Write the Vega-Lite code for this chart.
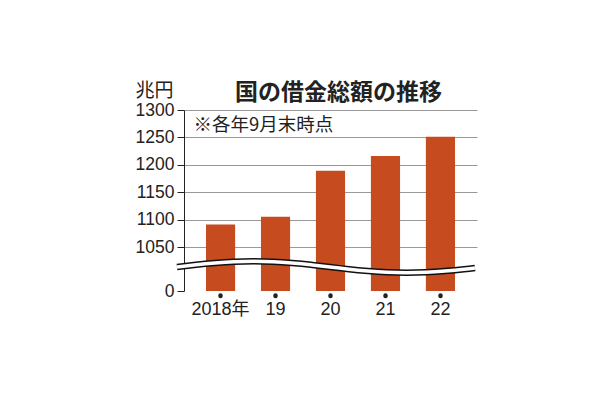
{
  "$schema": "https://vega.github.io/schema/vega-lite/v6.json",
  "width": 293,
  "height": 181,
  "autosize": "none",
  "padding": {"left": 184, "top": 110, "right": 133, "bottom": 109},
  "background": "white",
  "title": {
    "text": "国の借金総額の推移",
    "font": "Noto Sans CJK JP",
    "fontSize": 23,
    "fontWeight": "bold",
    "color": "#222222",
    "anchor": "middle",
    "frame": "group",
    "dx": 8,
    "offset": -24
  },
  "config": {
    "view": {"stroke": null}
  },
  "encoding": {
    "y": {
      "field": "value",
      "type": "quantitative",
      "scale": {"domain": [0, 1050, 1300], "range": [181, 137, 0], "nice": false, "zero": false},
      "axis": {
        "title": "兆円",
        "titleFont": "Noto Sans CJK JP",
        "titleFontSize": 19,
        "titleFontWeight": "normal",
        "titleColor": "#222222",
        "titleAngle": 0,
        "titleAlign": "right",
        "titleBaseline": "bottom",
        "titleX": -11,
        "titleY": -10,
        "values": [0, 1050, 1100, 1150, 1200, 1250, 1300],
        "format": "d",
        "labelOverlap": false,
        "labelFont": "Liberation Sans",
        "labelFontSize": 17.5,
        "labelColor": "#222222",
        "labelPadding": 3,
        "tickSize": 7,
        "tickColor": "#222222",
        "domainColor": "#222222",
        "grid": true,
        "gridColor": "#999999",
        "gridOpacity": {"condition": {"test": "datum.value === 0", "value": 0}, "value": 1}
      }
    }
  },
  "layer": [
    {
      "layer": [
        {
          "data": {
            "values": [
              {"year": "2018年", "value": 1091},
              {"year": "19", "value": 1105},
              {"year": "20", "value": 1189},
              {"year": "21", "value": 1216},
              {"year": "22", "value": 1251}
            ]
          },
          "mark": {"type": "bar", "color": "#c64b1e"},
          "encoding": {
            "x": {
              "field": "year",
              "type": "nominal",
              "sort": null,
              "scale": {"domain": ["2018年", "19", "20", "21", "22"], "paddingInner": 0.47, "paddingOuter": 0.4},
              "axis": {
                "title": null,
                "domain": false,
                "labelAngle": 0,
                "labelFont": "Liberation Sans, Noto Sans CJK JP",
                "labelFontSize": 18,
                "labelColor": "#222222",
                "labelPadding": 5,
                "ticks": true,
                "tickCap": "round",
                "tickWidth": 4.5,
                "tickSize": 0.5,
                "tickColor": "#222222",
                "offset": 4
              }
            }
          }
        },
        {
          "data": {"values": [{"note": "※各年9月末時点", "year": "2018年", "value": 1273}]},
          "mark": {
            "type": "text",
            "font": "Noto Sans CJK JP",
            "fontSize": 18.5,
            "color": "#222222",
            "align": "left",
            "baseline": "middle",
            "dx": -27
          },
          "encoding": {
            "x": {"field": "year", "type": "nominal"},
            "text": {"field": "note"}
          }
        }
      ]
    },
    {
      "data": {
        "values": [
          {"t": -7, "value": 573},
          {"t": 12, "value": 625},
          {"t": 31, "value": 668},
          {"t": 50, "value": 699},
          {"t": 69.5, "value": 710},
          {"t": 89, "value": 699},
          {"t": 108, "value": 668},
          {"t": 127, "value": 625},
          {"t": 146, "value": 573},
          {"t": 165, "value": 520},
          {"t": 184, "value": 477},
          {"t": 203, "value": 446},
          {"t": 222.5, "value": 435},
          {"t": 242, "value": 446},
          {"t": 261, "value": 477},
          {"t": 280, "value": 520},
          {"t": 291, "value": 551}
        ]
      },
      "encoding": {
        "x": {"field": "t", "type": "quantitative", "scale": {"domain": [0, 293], "nice": false, "zero": false}, "axis": null}
      },
      "layer": [
        {"mark": {"type": "line", "color": "#111111", "strokeWidth": 6.5, "interpolate": "natural"}},
        {"mark": {"type": "line", "color": "#ffffff", "strokeWidth": 3.5, "interpolate": "natural"}}
      ]
    }
  ],
  "resolve": {"scale": {"x": "independent"}}
}
